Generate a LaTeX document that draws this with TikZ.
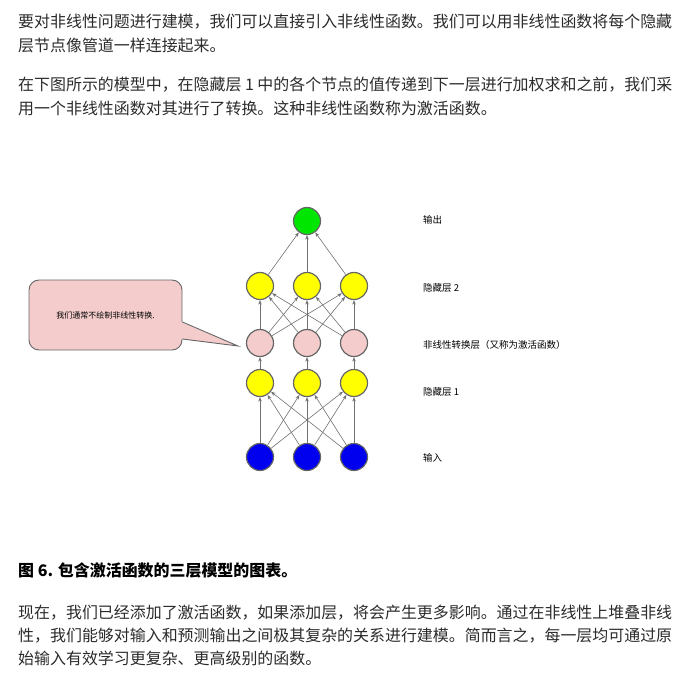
\documentclass[tikz,border=0pt]{standalone}
\usepackage{fontspec}
\newfontfamily\cjk{Noto Sans CJK SC}
\usetikzlibrary{positioning, arrows.meta}
\definecolor{inblue}{HTML}{0000EE}
\definecolor{hidyellow}{HTML}{FFFF00}
\definecolor{actpink}{HTML}{F4CCCC}
\definecolor{outgreen}{HTML}{00E600}
\definecolor{nodegray}{HTML}{666666}
\definecolor{edgegray}{HTML}{707070}
\definecolor{textgray}{HTML}{2B2B2B}
\begin{document}
\begin{tikzpicture}[x=1pt, y=-1pt, node distance={47pt}, >={Stealth[length=4.5pt, width=3.5pt]},
    unit/.style = {draw=nodegray, circle, line width=1.2pt, minimum size=27pt, inner sep=0pt},
    inp/.style = {unit, fill=inblue},
    hid/.style = {unit, fill=hidyellow},
    act/.style = {unit, fill=actpink},
    outp/.style = {unit, fill=outgreen},
    link/.style = {->, draw=edgegray, line width=0.6pt},
    para/.style = {anchor=west, inner sep=0pt, text=textgray, font=\cjk\fontsize{15.95}{20}\selectfont},
    layer/.style = {anchor=west, inner sep=0pt, font=\cjk\fontsize{9.5}{11}\selectfont},
    note/.style = {draw=nodegray, fill=actpink, rounded corners=10pt, line width=0.9pt, minimum width=153pt, minimum height=70pt, font=\cjk\fontsize{8}{10}\selectfont}]
    \useasboundingbox (0,0) rectangle (700,676);
    % text above
    \node[para] (p1) at (18,21.5) {要对非线性问题进行建模，我们可以直接引入非线性函数。我们可以用非线性函数将每个隐藏};
    \node[para] (p2) at (18,45.5) {层节点像管道一样连接起来。};
    \node[para] (p3) at (18,85) {在下图所示的模型中，在隐藏层 1 中的各个节点的值传递到下一层进行加权求和之前，我们采};
    \node[para] (p4) at (18,108) {用一个非线性函数对其进行了转换。这种非线性函数称为激活函数。};
    % network
    \node[inp] (i1) at (260,457) {};
    \node[inp] (i2) [right of=i1] {};
    \node[inp] (i3) [right of=i2] {};
    \node[hid] (h1) at (260,383) {};
    \node[hid] (h2) [right of=h1] {};
    \node[hid] (h3) [right of=h2] {};
    \node[act] (a1) at (260,343) {};
    \node[act] (a2) [right of=a1] {};
    \node[act] (a3) [right of=a2] {};
    \node[hid] (g1) at (260,286) {};
    \node[hid] (g2) [right of=g1] {};
    \node[hid] (g3) [right of=g2] {};
    \node[outp] (o) at (307,221) {};
    \draw[link] (i1) -- (h1);
    \draw[link] (i1) -- (h2);
    \draw[link] (i1) -- (h3);
    \draw[link] (i2) -- (h1);
    \draw[link] (i2) -- (h2);
    \draw[link] (i2) -- (h3);
    \draw[link] (i3) -- (h1);
    \draw[link] (i3) -- (h2);
    \draw[link] (i3) -- (h3);
    \draw[link] (h1) -- (a1);
    \draw[link] (h2) -- (a2);
    \draw[link] (h3) -- (a3);
    \draw[link] (a1) -- (g1);
    \draw[link] (a1) -- (g2);
    \draw[link] (a1) -- (g3);
    \draw[link] (a2) -- (g1);
    \draw[link] (a2) -- (g2);
    \draw[link] (a2) -- (g3);
    \draw[link] (a3) -- (g1);
    \draw[link] (a3) -- (g2);
    \draw[link] (a3) -- (g3);
    \draw[link] (g1) -- (o);
    \draw[link] (g2) -- (o);
    \draw[link] (g3) -- (o);
    % layer names
    \node[layer] (lo) at (423,220) {输出};
    \node[layer] (lg) at (423,288) {隐藏层 2};
    \node[layer] (la) at (423,345) {非线性转换层（又称为激活函数）};
    \node[layer] (lh) at (423,392) {隐藏层 1};
    \node[layer] (li) at (423,458) {输入};
    % callout
    \node[note] (n) at (105.5,315) {我们通常不绘制非线性转换.};
    \coordinate (tip) at (238,346);
    \fill[actpink] ([xshift=-1.5pt,yshift=-7pt]n.east) -- (tip) -- ([xshift=-1.5pt,yshift=-24pt]n.east) -- cycle;
    \draw[nodegray, line width=0.9pt] ([yshift=-7pt]n.east) -- (tip) -- ([yshift=-24pt]n.east);
    % text below
    \node[para, font=\cjk\bfseries\fontsize{15.95}{20}\selectfont, text=black] (cap) at (18,570) {图 6. 包含激活函数的三层模型的图表。};
    \node[para] (p5) at (18,613) {现在，我们已经添加了激活函数，如果添加层，将会产生更多影响。通过在非线性上堆叠非线};
    \node[para] (p6) at (18,635.5) {性，我们能够对输入和预测输出之间极其复杂的关系进行建模。简而言之，每一层均可通过原};
    \node[para] (p7) at (18,658) {始输入有效学习更复杂、更高级别的函数。};
\end{tikzpicture}
\end{document}
